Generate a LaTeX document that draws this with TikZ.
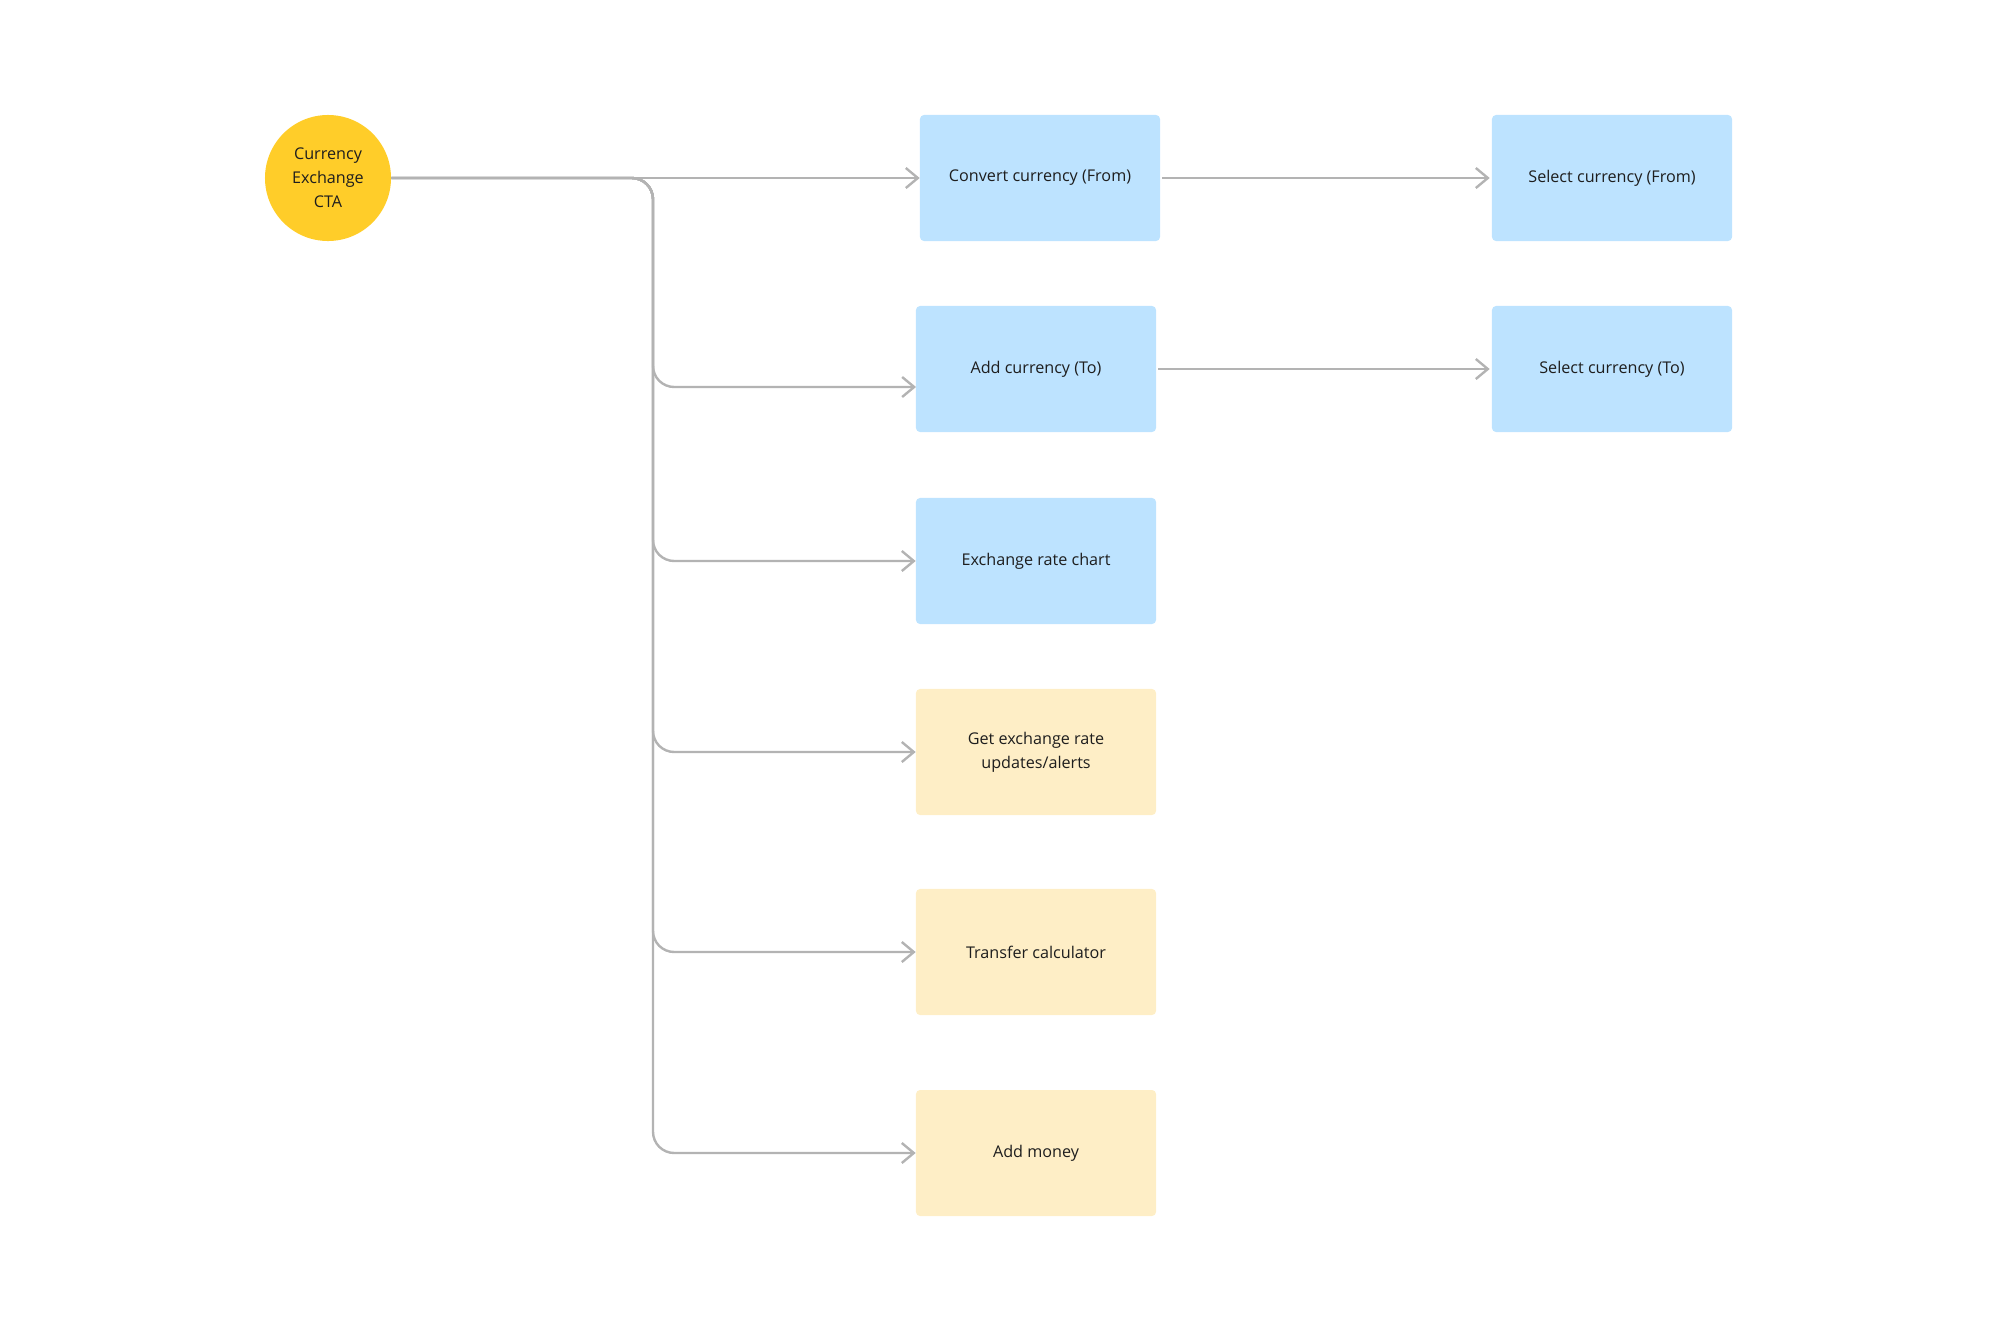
\documentclass[tikz,border=0pt]{standalone}
\usepackage{fontspec}
\setmainfont{Open Sans}
\usetikzlibrary{arrows.meta}
\definecolor{ctayellow}{HTML}{FFCD29}
\definecolor{stepblue}{HTML}{BDE3FF}
\definecolor{stepcream}{HTML}{FEEEC6}
\definecolor{linkgray}{HTML}{B3B3B3}
\definecolor{inktext}{HTML}{1E1E1E}
\begin{document}
\begin{tikzpicture}[x=0.025cm, y=-0.025cm,
    every node/.style={text=inktext, font=\fontsize{11.5}{17}\selectfont, align=center},
    cta/.style={circle, fill=ctayellow, minimum size=3.15cm, inner sep=0pt},
    stepbox/.style={rounded corners=0.1cm, minimum width=6cm, minimum height=3.15cm, inner sep=0pt},
    bluebox/.style={stepbox, fill=stepblue},
    creambox/.style={stepbox, fill=stepcream},
    link/.style={draw=linkgray, line width=1.7pt, -{Straight Barb[length=0.3cm, width=0.5cm]}},
    branch/.style={link, rounded corners=0.53cm}]
  \useasboundingbox (0,0) rectangle (1998,1329);
  % start
  \node[cta] (cta) at (328,178) {Currency\\Exchange\\CTA};
  % first column
  \node[bluebox] (convert) at (1040,178) {Convert currency (From)};
  \node[bluebox] (addcur) at (1036,369) {Add currency (To)};
  \node[bluebox] (chart) at (1036,561) {Exchange rate chart};
  \node[creambox] (alerts) at (1036,752) {Get exchange rate\\updates/alerts};
  \node[creambox] (calc) at (1036,952) {Transfer calculator};
  \node[creambox] (money) at (1036,1153) {Add money};
  % second column
  \node[bluebox] (selfrom) at (1612,178) {Select currency (From)};
  \node[bluebox] (selto) at (1612,369) {Select currency (To)};
  \coordinate (trunk) at (653,178);
  \coordinate (addin) at (916,387);
  % connectors
  \draw[link] (cta.east) -- (convert.west);
  \draw[branch] (cta.east) -| (trunk |- addin) -- (addin);
  \foreach \n in {chart, alerts, calc, money}
    \draw[branch] (cta.east) -| (trunk |- \n.west) -- (\n.west);
  \draw[link] ([xshift=0.05cm]convert.east) -- ([xshift=-0.05cm]selfrom.west);
  \draw[link] ([xshift=0.05cm]addcur.east) -- ([xshift=-0.05cm]selto.west);
\end{tikzpicture}
\end{document}
